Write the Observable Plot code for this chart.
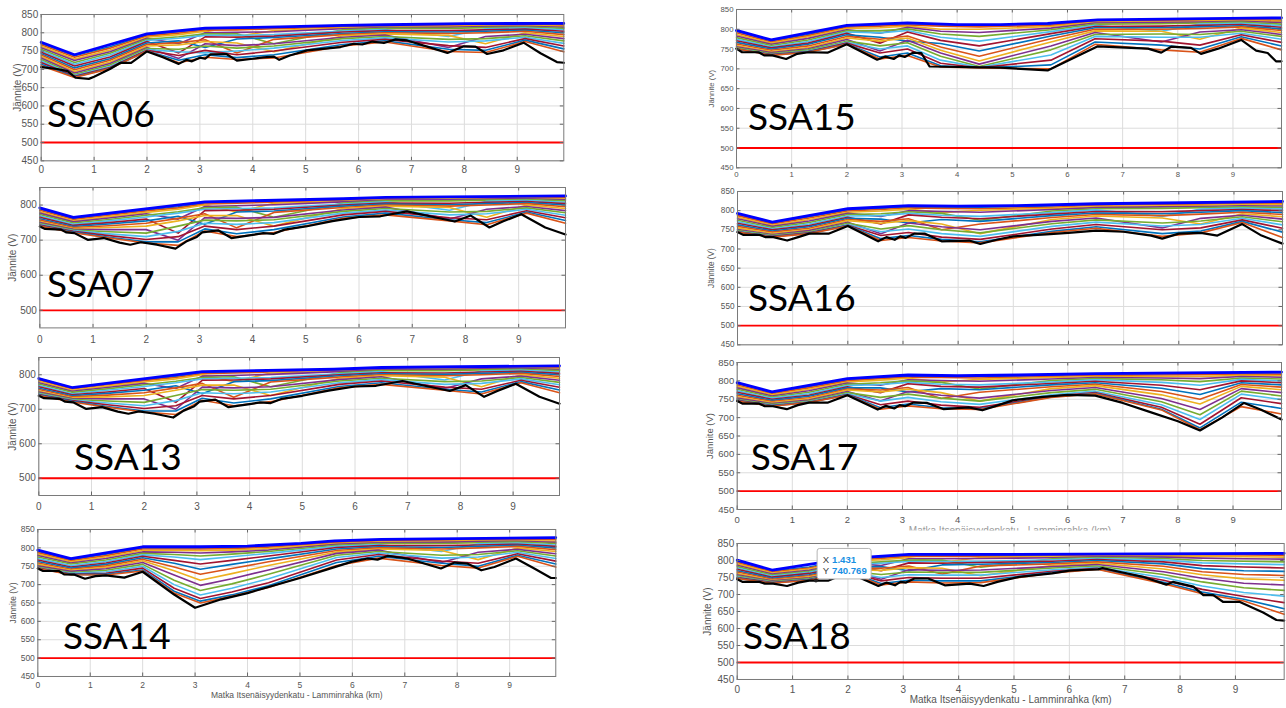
<!DOCTYPE html>
<html>
<head>
<meta charset="utf-8">
<script src="https://cdn.jsdelivr.net/npm/d3@7"></script>
<script src="https://cdn.jsdelivr.net/npm/@observablehq/plot@0.6"></script>
<style>
  html, body { margin: 0; padding: 0; background: #fff; }
  #page { position: relative; width: 1286px; height: 708px; overflow: hidden; }
  #page > svg { position: absolute; }
</style>
</head>
<body>
<div id="page"></div>
<script>
// ---- shared axis values -------------------------------------------------
const kmTicks = [0, 1, 2, 3, 4, 5, 6, 7, 8, 9];
const volt50 = [450, 500, 550, 600, 650, 700, 750, 800, 850];
const volt100 = [500, 600, 700, 800];
const limitVoltage = 500;
const yTitle = "Jännite (V)";
const xTitle = "Matka Itsenäisyydenkatu - Lamminrahka (km)";
const palette = ["#0072BD", "#D95319", "#EDB120", "#7E2F8E", "#77AC30", "#4DBEEE", "#A2142F"];

// distance points (km) shared by the individual voltage profiles
const nodesKm = [0, 0.63, 1.3, 2.0, 2.6, 3.1, 3.7, 4.4, 5.7, 6.5, 7.7, 8.4, 9.15, 9.88];

// ---- SSA06 --------------------------------------------------------------
const ssa06Top = [[0,774],[0.63,740],[2.0,797],[3.1,813],[4.5,816],[5.7,820],[6.5,822],[8.0,825],[9.88,826]];
const ssa06Bottom = [[0,706],[0.3,701],[0.5,695],[0.65,677],[0.9,674],[1.0,680],[1.3,701],[1.5,718],[1.7,718],[2.0,749],[2.3,733],[2.6,715],[2.75,726],[2.85,722],[3.0,732],[3.1,729],[3.2,741],[3.5,742],[3.7,724],[4.0,729],[4.2,733],[4.4,735],[4.5,726],[4.7,738],[5.03,752],[5.66,761],[5.91,770],[6.07,768],[6.26,776],[6.48,772],[6.7,782],[6.92,779],[7.68,745],[7.99,763],[8.21,762],[8.43,742],[8.74,752],[9.12,773],[9.44,744],[9.75,720],[9.88,718]];
const ssa06Lines = [
  [771,737,762,794,803,810,812,814,818,820,822,823,824,824],
  [767,733,758,791,799,807,808,811,816,818,820,821,822,821],
  [763,728,753,788,795,804,790,806,813,816,818,819,820,818],
  [759,724,748,785,770,800,801,803,811,814,815,817,818,815],
  [755,719,744,782,789,797,797,770,808,812,812,814,816,812],
  [751,714,739,779,785,793,793,795,805,809,790,811,813,808],
  [747,709,734,776,745,789,788,791,802,806,806,808,810,804],
  [743,704,729,772,778,760,783,787,798,803,802,804,807,800],
  [739,699,725,768,773,781,745,782,795,800,798,800,804,795],
  [735,694,720,764,767,776,772,748,792,797,793,770,800,790],
  [731,690,716,760,730,770,765,770,788,794,760,790,796,784],
  [727,686,712,757,755,764,758,764,784,790,782,784,792,778],
  [723,683,708,754,748,745,750,758,779,786,775,778,788,771],
  [719,681,705,752,738,752,740,750,774,782,765,760,784,764],
  [714,679,703,750,725,740,732,740,768,778,755,752,780,756],
  [710,678,702,750,718,733,727,731,764,775,749,746,776,748]
];

// ---- SSA07 --------------------------------------------------------------
const ssa07Top = [[0,792],[0.63,765],[3.1,809],[5.7,818],[6.5,822],[9.88,826]];
const ssa07Bottom = [[0,739],[0.1,732],[0.4,730],[0.5,722],[0.65,720],[0.9,701],[1.2,706],[1.5,693],[1.7,687],[1.9,694],[2.2,687],[2.55,676],[2.75,696],[2.95,709],[3.05,722],[3.35,728],[3.6,706],[4.0,715],[4.2,720],[4.4,718],[4.6,730],[5.0,739],[5.5,754],[6.0,766],[6.4,768],[6.9,782],[7.8,753],[8.1,770],[8.45,736],[8.7,753],[9.05,774],[9.5,736],[9.88,716]];
const ssa07Lines = [
  [789,762,774,786,795,806,808,811,816,820,822,823,824,824],
  [785,759,771,783,792,803,805,808,814,818,820,821,822,821],
  [781,755,767,779,788,800,780,805,811,816,818,819,820,818],
  [777,752,763,775,760,796,798,801,809,814,815,817,818,815],
  [773,749,759,771,781,792,794,765,806,812,812,814,816,812],
  [769,745,755,766,777,788,790,792,803,809,785,811,813,808],
  [765,742,750,760,720,784,785,788,800,806,805,808,810,804],
  [761,739,746,755,768,745,780,783,797,803,801,804,807,800],
  [757,736,741,748,762,775,735,779,793,800,797,800,804,795],
  [753,733,736,740,755,770,770,740,790,797,793,765,800,790],
  [750,731,730,730,700,764,762,765,786,794,760,788,796,784],
  [747,729,724,720,740,757,755,758,782,790,780,782,792,778],
  [745,727,718,710,725,748,745,750,777,786,772,775,788,771],
  [743,725,713,702,710,740,730,740,772,782,764,758,784,764],
  [741,723,708,695,695,732,718,730,766,777,758,750,780,756],
  [740,721,706,692,685,726,710,722,762,772,755,744,777,748]
];

// ---- SSA13 (same profile family as SSA07) -------------------------------
const ssa13Top = [[0,789],[0.63,763],[3.1,809],[5.6,816],[6.5,821],[9.88,826]];
const ssa13Bottom = ssa07Bottom;
const ssa13Lines = ssa07Lines;

// ---- SSA14 --------------------------------------------------------------
const ssa14Top = [[0,794],[0.63,771],[2.0,803],[3.1,803],[4.0,805],[5.02,812],[5.66,819],[6.55,823],[9.88,828]];
const ssa14Bottom = [[0,744],[0.1,737],[0.4,737],[0.5,728],[0.7,727],[0.9,716],[1.1,723],[1.3,725],[1.65,719],[2.0,735],[2.6,673],[3.0,637],[3.5,660],[4.0,677],[5.0,718],[5.6,745],[5.98,762],[6.29,771],[6.48,768],[6.67,778],[7.05,771],[7.69,744],[7.95,760],[8.2,757],[8.46,739],[8.71,748],[9.12,771],[9.47,744],[9.79,718],[9.88,718]];
const ssa14Lines = [
  [791,768,783,800,800,800,801,805,817,821,823,824,825,825],
  [787,765,779,797,797,797,798,802,815,819,821,822,823,822],
  [783,762,775,793,793,792,794,798,812,816,818,819,820,818],
  [779,759,771,789,788,786,789,794,810,814,815,817,818,815],
  [775,756,767,785,782,778,783,790,807,812,812,814,816,812],
  [771,752,763,781,775,768,776,785,804,809,790,811,813,808],
  [767,748,759,777,766,756,766,778,801,806,806,808,810,804],
  [763,745,755,773,758,742,755,770,797,803,801,804,807,800],
  [759,742,751,769,748,728,744,762,793,800,797,800,804,795],
  [755,739,747,765,738,712,730,752,789,797,793,768,800,790],
  [751,736,743,760,726,698,716,740,785,794,760,788,796,784],
  [748,733,739,755,712,684,702,728,780,790,780,782,792,778],
  [746,731,735,750,700,672,690,716,774,786,772,775,788,771],
  [745,729,731,745,690,662,680,705,767,782,764,758,784,764],
  [744,728,728,740,682,655,672,697,760,777,758,750,780,756],
  [744,727,726,737,677,650,668,692,752,772,752,745,777,748]
];

// ---- SSA15 --------------------------------------------------------------
const ssa15Top = [[0,797],[0.63,773],[2.0,810],[3.1,816],[4.0,812],[4.79,812],[5.64,815],[6.55,824],[9.88,829]];
const ssa15Bottom = [[0,751],[0.1,742],[0.4,742],[0.5,734],[0.65,734],[0.9,725],[1.1,738],[1.3,742],[1.65,741],[2.0,762],[2.55,723],[2.7,731],[2.85,725],[2.95,734],[3.05,730],[3.2,741],[3.35,740],[3.5,706],[4.79,703],[5.64,696],[6.55,757],[7.46,751],[7.7,741],[7.88,756],[8.24,753],[8.42,738],[8.73,751],[9.15,773],[9.42,746],[9.63,740],[9.78,719],[9.88,719]];
const ssa15Lines = [
  [795,771,787,808,811,814,811,810,813,822,824,825,826,826],
  [791,768,784,805,808,811,808,806,810,820,822,823,824,823],
  [787,765,781,802,804,808,800,800,807,818,819,821,822,820],
  [783,762,777,799,790,805,795,792,803,816,817,818,820,817],
  [779,759,773,796,796,801,788,782,799,813,814,816,818,813],
  [775,756,769,793,791,797,780,770,794,810,795,813,815,809],
  [771,753,765,790,765,793,772,758,789,807,808,810,812,805],
  [767,750,762,786,780,770,764,745,783,804,804,806,809,801],
  [763,747,758,782,775,783,755,732,776,800,800,802,806,797],
  [759,744,754,778,770,778,747,720,768,796,795,775,803,792],
  [756,741,751,774,745,772,740,712,758,792,768,793,799,787],
  [753,739,748,770,758,766,732,706,748,787,788,787,795,782],
  [751,737,745,767,750,758,722,704,735,782,780,780,790,775],
  [750,736,744,765,740,750,714,703,722,776,770,760,786,767],
  [750,735,743,763,730,740,708,702,710,768,760,750,781,758],
  [751,734,742,762,725,734,705,702,700,762,748,742,777,748]
];

// ---- SSA16 --------------------------------------------------------------
const ssa16Top = [[0,793],[0.63,770],[2.0,805],[3.1,813],[4.0,812],[5.0,813],[6.5,818],[9.88,824]];
const ssa16Bottom = [[0,744],[0.1,737],[0.4,737],[0.5,731],[0.65,731],[0.9,722],[1.1,731],[1.3,740],[1.65,740],[2.0,760],[2.55,720],[2.7,731],[2.85,724],[2.95,733],[3.05,729],[3.2,740],[3.4,740],[3.7,720],[4.2,722],[4.4,713],[4.7,724],[5.0,733],[5.6,738],[6.0,742],[6.5,748],[7.0,745],[7.5,735],[7.7,727],[8.0,740],[8.4,742],[8.7,735],[9.15,765],[9.5,735],[9.88,714]];
const ssa16Lines = [
  [791,768,784,802,806,810,809,809,812,816,818,819,821,822],
  [787,765,781,799,803,807,806,805,809,814,816,817,819,819],
  [783,762,777,796,799,804,795,801,806,811,813,814,816,816],
  [779,759,773,793,785,800,798,796,803,808,810,811,813,812],
  [775,756,769,790,792,797,793,775,799,805,806,808,810,808],
  [771,753,765,786,787,793,788,785,795,802,785,804,807,804],
  [767,750,761,783,765,789,783,779,791,798,797,800,803,800],
  [763,747,758,780,778,768,777,772,787,794,792,796,800,795],
  [759,744,754,777,772,779,750,765,782,790,787,791,796,790],
  [755,741,751,774,767,774,765,740,777,786,781,765,792,784],
  [751,738,748,770,740,768,758,750,772,781,755,780,788,778],
  [748,736,745,767,752,761,750,742,766,776,768,773,784,771],
  [746,734,743,764,745,752,740,733,759,770,760,764,780,763],
  [745,733,742,762,735,743,731,725,752,764,750,755,776,754],
  [745,732,741,761,727,735,725,719,746,758,740,747,772,744],
  [744,731,740,760,722,730,721,716,743,754,733,742,769,730]
];

// ---- SSA17 --------------------------------------------------------------
const ssa17Top = [[0,795],[0.63,770],[2.0,806],[3.1,816],[4.0,814],[5.1,816],[6.5,820],[9.88,824]];
const ssa17Bottom = [[0,745],[0.1,738],[0.4,738],[0.5,731],[0.65,731],[0.9,723],[1.1,734],[1.3,741],[1.65,741],[2.0,761],[2.55,722],[2.7,732],[2.85,725],[2.95,734],[3.05,731],[3.2,741],[3.45,740],[3.75,723],[4.2,728],[4.45,720],[4.7,732],[5.0,747],[5.5,756],[6.0,762],[6.5,760],[7.0,740],[7.5,715],[8.0,690],[8.4,665],[8.8,700],[9.2,740],[9.5,722],[9.88,695]];
const ssa17Lines = [
  [793,768,784,803,809,813,812,812,815,818,819,820,821,822],
  [789,765,781,800,806,810,809,808,812,815,816,817,818,818],
  [785,762,777,797,802,807,797,804,809,812,812,812,815,814],
  [781,759,773,794,788,803,801,799,805,809,808,806,812,810],
  [777,756,769,791,795,800,796,778,801,806,803,798,808,805],
  [773,753,765,787,790,796,791,789,797,803,796,788,804,800],
  [769,750,761,784,768,792,785,783,793,799,788,776,800,795],
  [765,747,758,781,781,770,779,776,789,795,780,763,795,789],
  [761,744,754,778,775,782,752,769,784,791,771,750,790,783],
  [757,741,751,775,770,777,768,745,779,787,762,737,785,776],
  [753,738,748,771,745,771,761,753,774,782,752,722,779,768],
  [750,736,745,768,755,764,753,745,768,777,743,708,772,759],
  [748,734,743,765,745,755,743,736,762,772,735,695,764,749],
  [747,733,742,763,735,745,734,728,758,768,728,682,754,738],
  [746,732,741,762,727,737,727,724,756,766,723,672,742,725],
  [745,731,741,761,723,732,724,722,755,765,721,667,730,710]
];

// ---- SSA18 --------------------------------------------------------------
const ssa18Top = [[0,801],[0.63,772],[2.0,806],[3.1,818],[4.8,818],[9.88,821]];
const ssa18Bottom = [[0,745],[0.1,737],[0.4,737],[0.5,732],[0.65,732],[0.9,725],[1.1,735],[1.3,741],[1.431,740.769],[1.65,741],[2.0,765],[2.55,725],[2.7,735],[2.85,727],[2.95,737],[3.05,735],[3.2,747],[3.45,747],[3.75,727],[4.2,732],[4.45,725],[4.7,737],[5.09,752],[5.69,762],[6.0,770],[6.22,772],[6.52,774],[6.6,778],[6.9,767],[7.33,752],[7.75,729],[7.87,737],[8.24,723],[8.42,698],[8.6,698],[8.78,678],[9.08,678],[9.5,647],[9.74,625],[9.88,623]];
const ssa18Lines = [
  [798,769,781,803,809,815,815,815,816,817,818,818,819,819],
  [794,766,778,800,806,812,812,812,813,815,816,816,816,815],
  [790,763,775,797,802,808,795,809,811,813,813,812,811,810],
  [786,760,771,794,785,805,805,806,808,811,810,807,805,804],
  [782,757,768,791,796,801,801,780,805,809,806,800,798,796],
  [778,754,765,788,792,797,797,798,802,806,801,793,790,788],
  [774,751,762,785,770,793,792,794,798,803,796,785,781,778],
  [770,748,758,781,782,770,787,789,794,800,790,776,770,768],
  [766,745,755,777,777,784,760,784,790,796,783,767,759,756],
  [762,742,752,773,771,779,777,755,786,792,775,758,746,742],
  [758,740,749,770,745,773,771,772,782,788,767,748,733,728],
  [755,738,747,768,759,766,765,765,778,784,759,737,720,712],
  [752,736,745,767,750,758,757,757,773,780,750,725,706,695],
  [750,735,744,766,740,750,748,748,768,777,742,715,694,676],
  [748,734,743,766,732,742,740,740,765,775,736,707,686,658],
  [747,733,742,765,728,737,734,735,763,774,732,702,681,642]
];

// data tip shown on SSA18
const tipKm = 1.431;
const tipVolt = 740.769;

// ---- layout of the eight panels (frame edges in page pixels) --------------
const panels = [
  {name: "SSA06", col: 0, frame: [40.7, 14, 563.3, 160.3], yTicks: volt50, fs: 10, padX: 5, yLabelLeft: 13, nameAt: [49, 127], top: ssa06Top, bottom: ssa06Bottom, lines: ssa06Lines},
  {name: "SSA07", col: 0, frame: [39.3, 187.3, 565, 327.7], yTicks: volt100, fs: 10, padX: 7.5, yLabelLeft: 8, nameAt: [49, 297], top: ssa07Top, bottom: ssa07Bottom, lines: ssa07Lines},
  {name: "SSA13", col: 0, frame: [38.3, 357.3, 559, 495.3], yTicks: volt100, fs: 10, padX: 7.5, yLabelLeft: 8, nameAt: [76, 470], top: ssa13Top, bottom: ssa13Bottom, lines: ssa13Lines},
  {name: "SSA14", col: 0, frame: [37.3, 529.3, 555.3, 676.3], yTicks: volt50, fs: 8.5, padX: 5.5, yLabelLeft: 9, nameAt: [65, 649], xLabel: true, xLabelOffset: 22, top: ssa14Top, bottom: ssa14Bottom, lines: ssa14Lines},
  {name: "SSA15", col: 1, frame: [736, 9, 1281, 167.3], yTicks: volt50, fs: 7.8, padX: 4, yLabelLeft: 708, nameAt: [750, 130], top: ssa15Top, bottom: ssa15Bottom, lines: ssa15Lines},
  {name: "SSA16", col: 1, frame: [737, 191, 1282, 344.3], yTicks: volt50, fs: 8.2, padX: 4, yLabelLeft: 708, nameAt: [750, 311], noXTicks: true, top: ssa16Top, bottom: ssa16Bottom, lines: ssa16Lines},
  {name: "SSA17", col: 1, frame: [736.7, 362.3, 1281, 509.3], yTicks: volt50, fs: 9.5, padX: 7, yLabelLeft: 706, nameAt: [752.7, 470], top: ssa17Top, bottom: ssa17Bottom, lines: ssa17Lines},
  {name: "SSA18", col: 1, frame: [736.7, 543.3, 1283.7, 679.3], yTicks: volt50, fs: 10, padX: 6, yLabelLeft: 703, nameAt: [745, 649], xLabel: true, xLabelOffset: 24, top: ssa18Top, bottom: ssa18Bottom, lines: ssa18Lines}
];

const page = document.getElementById("page");
const fontFamily = '"Liberation Sans", Arial, Helvetica, sans-serif';

function drawPanel(p) {
  const [L, T, R, B] = p.frame;
  const svgLeft = p.col === 0 ? 0 : 690;
  const marginTop = 6, marginRight = 4, marginBottom = p.xLabel ? 30 : 20;
  const marginLeft = L - svgLeft;
  const width = R - svgLeft + marginRight;
  const height = (B - T) + marginTop + marginBottom;
  const fh = B - T, fw = R - L;
  const rows = p.lines.flatMap((vals, i) =>
    vals.map((v, j) => ({id: i, km: nodesKm[j], v, color: palette[i % palette.length]})));
  const text = {fill: "#555", fontSize: p.fs};
  const chart = Plot.plot({
    width, height, marginLeft, marginTop, marginRight, marginBottom,
    style: {background: "transparent", overflow: "visible", maxWidth: "none", fontFamily},
    x: {domain: [0, 9.88]},
    y: {domain: [450, 850]},
    color: {type: "identity"},
    marks: [
      Plot.gridX(kmTicks, {stroke: "#dcdcdc", strokeOpacity: 1}),
      Plot.gridY(p.yTicks, {stroke: "#dcdcdc", strokeOpacity: 1}),
      Plot.ruleY([limitVoltage], {stroke: "#ff0000", strokeWidth: 1.8}),
      Plot.line(rows, {x: "km", y: "v", z: "id", stroke: "color", strokeWidth: 1.6}),
      Plot.line(p.top, {x: d => d[0], y: d => d[1], stroke: "#0000ff", strokeWidth: 2.8}),
      Plot.line(p.bottom, {x: d => d[0], y: d => d[1], stroke: "#000000", strokeWidth: 2.2}),
      Plot.tickX(kmTicks, {x: d => d, insetBottom: fh - 3.5, stroke: "#666"}),
      Plot.tickX(kmTicks, {x: d => d, insetTop: fh - 3.5, stroke: "#666"}),
      Plot.tickY(p.yTicks, {y: d => d, insetRight: fw - 3.5, stroke: "#666"}),
      Plot.tickY(p.yTicks, {y: d => d, insetLeft: fw - 3.5, stroke: "#666"}),
      Plot.frame({stroke: "#7a7a7a"}),
      Plot.axisX(p.noXTicks ? [] : kmTicks, {tickSize: 0, tickPadding: p.padX, ...text,
        label: p.xLabel ? xTitle : null, labelAnchor: "center", labelArrow: "none",
        labelOffset: p.xLabelOffset}),
      Plot.axisY(p.yTicks, {tickSize: 0, tickPadding: 3, ...text,
        label: yTitle, labelAnchor: "center", labelArrow: "none", labelOffset: L - p.yLabelLeft})
    ]
  });
  chart.style.left = svgLeft + "px";
  chart.style.top = (T - marginTop) + "px";
  page.appendChild(chart);
  return {chart, svgLeft, svgTop: T - marginTop};
}

const drawn = panels.map(drawPanel);

// ---- overlay: scenario names, cut-off axis title and the data tip ---------
const overlay = d3.select(page).append("svg")
  .attr("width", 1286).attr("height", 708)
  .style("left", "0px").style("top", "0px").style("pointer-events", "none");

// the SSA17 distance title is mostly hidden under the SSA18 panel
const cut = overlay.append("svg").attr("x", 880).attr("y", 525).attr("width", 260).attr("height", 5.5);
cut.append("text").attr("x", 1010 - 880).attr("y", 8.5).attr("text-anchor", "middle")
  .attr("font-family", fontFamily).attr("font-size", 10).attr("fill", "#9a9a9a")
  .text(xTitle);

overlay.selectAll("text.name").data(panels).join("text")
  .attr("class", "name")
  .attr("x", d => d.nameAt[0] - 2)
  .attr("y", d => d.nameAt[1])
  .attr("font-family", "Lato, 'Open Sans', sans-serif")
  .attr("font-size", 37)
  .attr("fill", "#000")
  .text(d => d.name);

const last = drawn[7];
const px = last.svgLeft + last.chart.scale("x").apply(tipKm);
const py = last.svgTop + last.chart.scale("y").apply(tipVolt);
const tip = overlay.append("g").attr("transform", `translate(${px},${py})`);
tip.append("rect").attr("x", 1.2).attr("y", -32).attr("width", 54).attr("height", 30.5)
  .attr("rx", 2.5).attr("fill", "#fff").attr("stroke", "#b4b4b4").attr("stroke-width", 1);
tip.append("circle").attr("r", 2).attr("fill", "#222");
const tipText = [["X", tipKm.toFixed(3), -17.6], ["Y", tipVolt.toFixed(3), -6.6]];
tipText.forEach(([k, v, y]) => {
  const t = tip.append("text").attr("x", 6.8).attr("y", y)
    .attr("font-family", fontFamily).attr("font-size", 9.6);
  t.append("tspan").attr("fill", "#404040").text(k + " ");
  t.append("tspan").attr("x", 16.2).attr("fill", "#1a8fe3").attr("font-weight", "bold").text(v);
});
</script>
</body>
</html>
